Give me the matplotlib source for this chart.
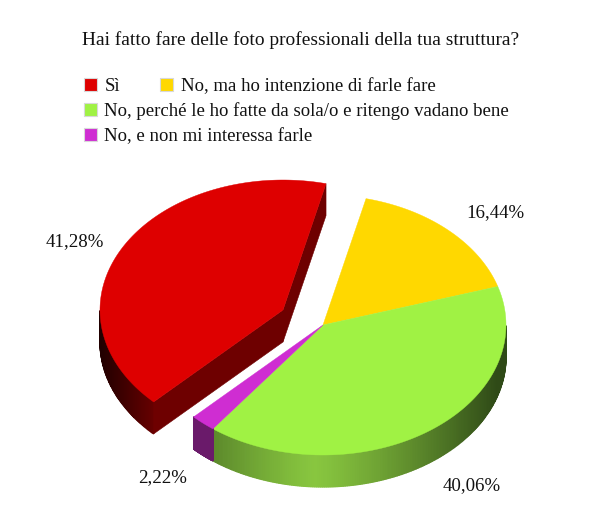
import numpy as np
import matplotlib
matplotlib.use("Agg")
import matplotlib.pyplot as plt
from matplotlib.colors import to_rgb
from matplotlib.patches import Polygon, Rectangle

plt.rcParams['font.family'] = ['Liberation Serif', 'DejaVu Serif']

title = "Hai fatto fare delle foto professionali della tua struttura?"
labels = ["Sì", "No, ma ho intenzione di farle fare",
          "No, perché le ho fatte da sola/o e ritengo vadano bene",
          "No, e non mi interessa farle"]
values = [41.28, 16.44, 40.06, 2.22]
value_labels = ["41,28%", "16,44%", "40,06%", "2,22%"]
colors = ["#de0000", "#ffd800", "#a0f244", "#cf2dd2"]
side_dark = ["#6e0000", "#806c00", "#4f7a28", "#6a1a6a"]

# pie geometry in pixels
cx, cy = 323, 325
rx, ry = 183, 130
depth = 32
start = 76.4
explode = {0: (-40, -15)}
label_pos = [(75, 241.5), (495, 212.5), (472, 486), (163, 478)]
legend_pos = [(84, 85, 0), (160.5, 85, 1), (84, 109.5, 2), (84, 135, 3)]


def rim(t, dx=0, dy=0):
    t = np.radians(t)
    return cx + dx + rx * np.cos(t), cy + dy - ry * np.sin(t)


def side_color(i, t):
    # lit from the front, darker towards the left and right edges
    x = np.cos(np.radians(t))
    if i == 0:
        base = np.array(to_rgb(side_dark[0]))
        return base * np.clip(0.3 + 0.7 * (x + 1) / 0.32, 0, 1)
    if i == 2:
        mid = np.array(to_rgb("#88c63f"))
        edge = np.array(to_rgb("#2f4a17"))
        f = min(abs(x + 0.05) ** 1.2, 1)
        return mid * (1 - f) + edge * f
    return np.array(to_rgb(side_dark[i]))


fig = plt.figure(figsize=(6, 5.29), dpi=100)
ax = fig.add_axes([0, 0, 1, 1])
ax.set_xlim(0, 600)
ax.set_ylim(529, 0)
ax.axis('off')

# slices run clockwise from yellow, red comes last and is drawn on top
draw_order = [1, 2, 3, 0]
a = start
for i in draw_order:
    a0, a1 = a, a - values[i] * 3.6
    a = a1
    dx, dy = explode.get(i, (0, 0))
    ts = np.linspace(a0, a1, 240)

    # outer wall, only the part facing the viewer
    for t0, t1 in zip(ts[:-1], ts[1:]):
        if np.sin(np.radians((t0 + t1) / 2)) > 0:
            continue
        x0, y0 = rim(t0, dx, dy)
        x1, y1 = rim(t1, dx, dy)
        c = side_color(i, (t0 + t1) / 2)
        ax.add_patch(Polygon([(x0, y0), (x1, y1), (x1, y1 + depth), (x0, y0 + depth)],
                             fc=c, ec=c, lw=0.9))

    # cut faces of the exploded slice
    if i == 0:
        for t in (a0, a1):
            x0, y0 = rim(t, dx, dy)
            ax.add_patch(Polygon([(cx + dx, cy + dy), (x0, y0), (x0, y0 + depth),
                                  (cx + dx, cy + dy + depth)],
                                 fc=side_dark[0], ec=side_dark[0], lw=0.4))

    xs, ys = rim(ts, dx, dy)
    pts = [(cx + dx, cy + dy)] + list(zip(xs, ys))
    ax.add_patch(Polygon(pts, fc=colors[i], ec=colors[i], lw=0.3))

ax.text(82, 40, title, fontsize=13.95, color="#111111", ha='left', va='center')

for (x, y, i) in legend_pos:
    ax.add_patch(Rectangle((x - 0.5, y - 7), 13, 13, fc=colors[i], ec="#d8d8d8", lw=0.8))
    ax.text(x + 20.5, y + 1.5, labels[i], fontsize=13.5, color="#111111", ha='left', va='center')

for (x, y), s in zip(label_pos, value_labels):
    ax.text(x, y, s, fontsize=13.6, color="#111111", ha='center', va='center')

fig.savefig("out.png", dpi=100)
